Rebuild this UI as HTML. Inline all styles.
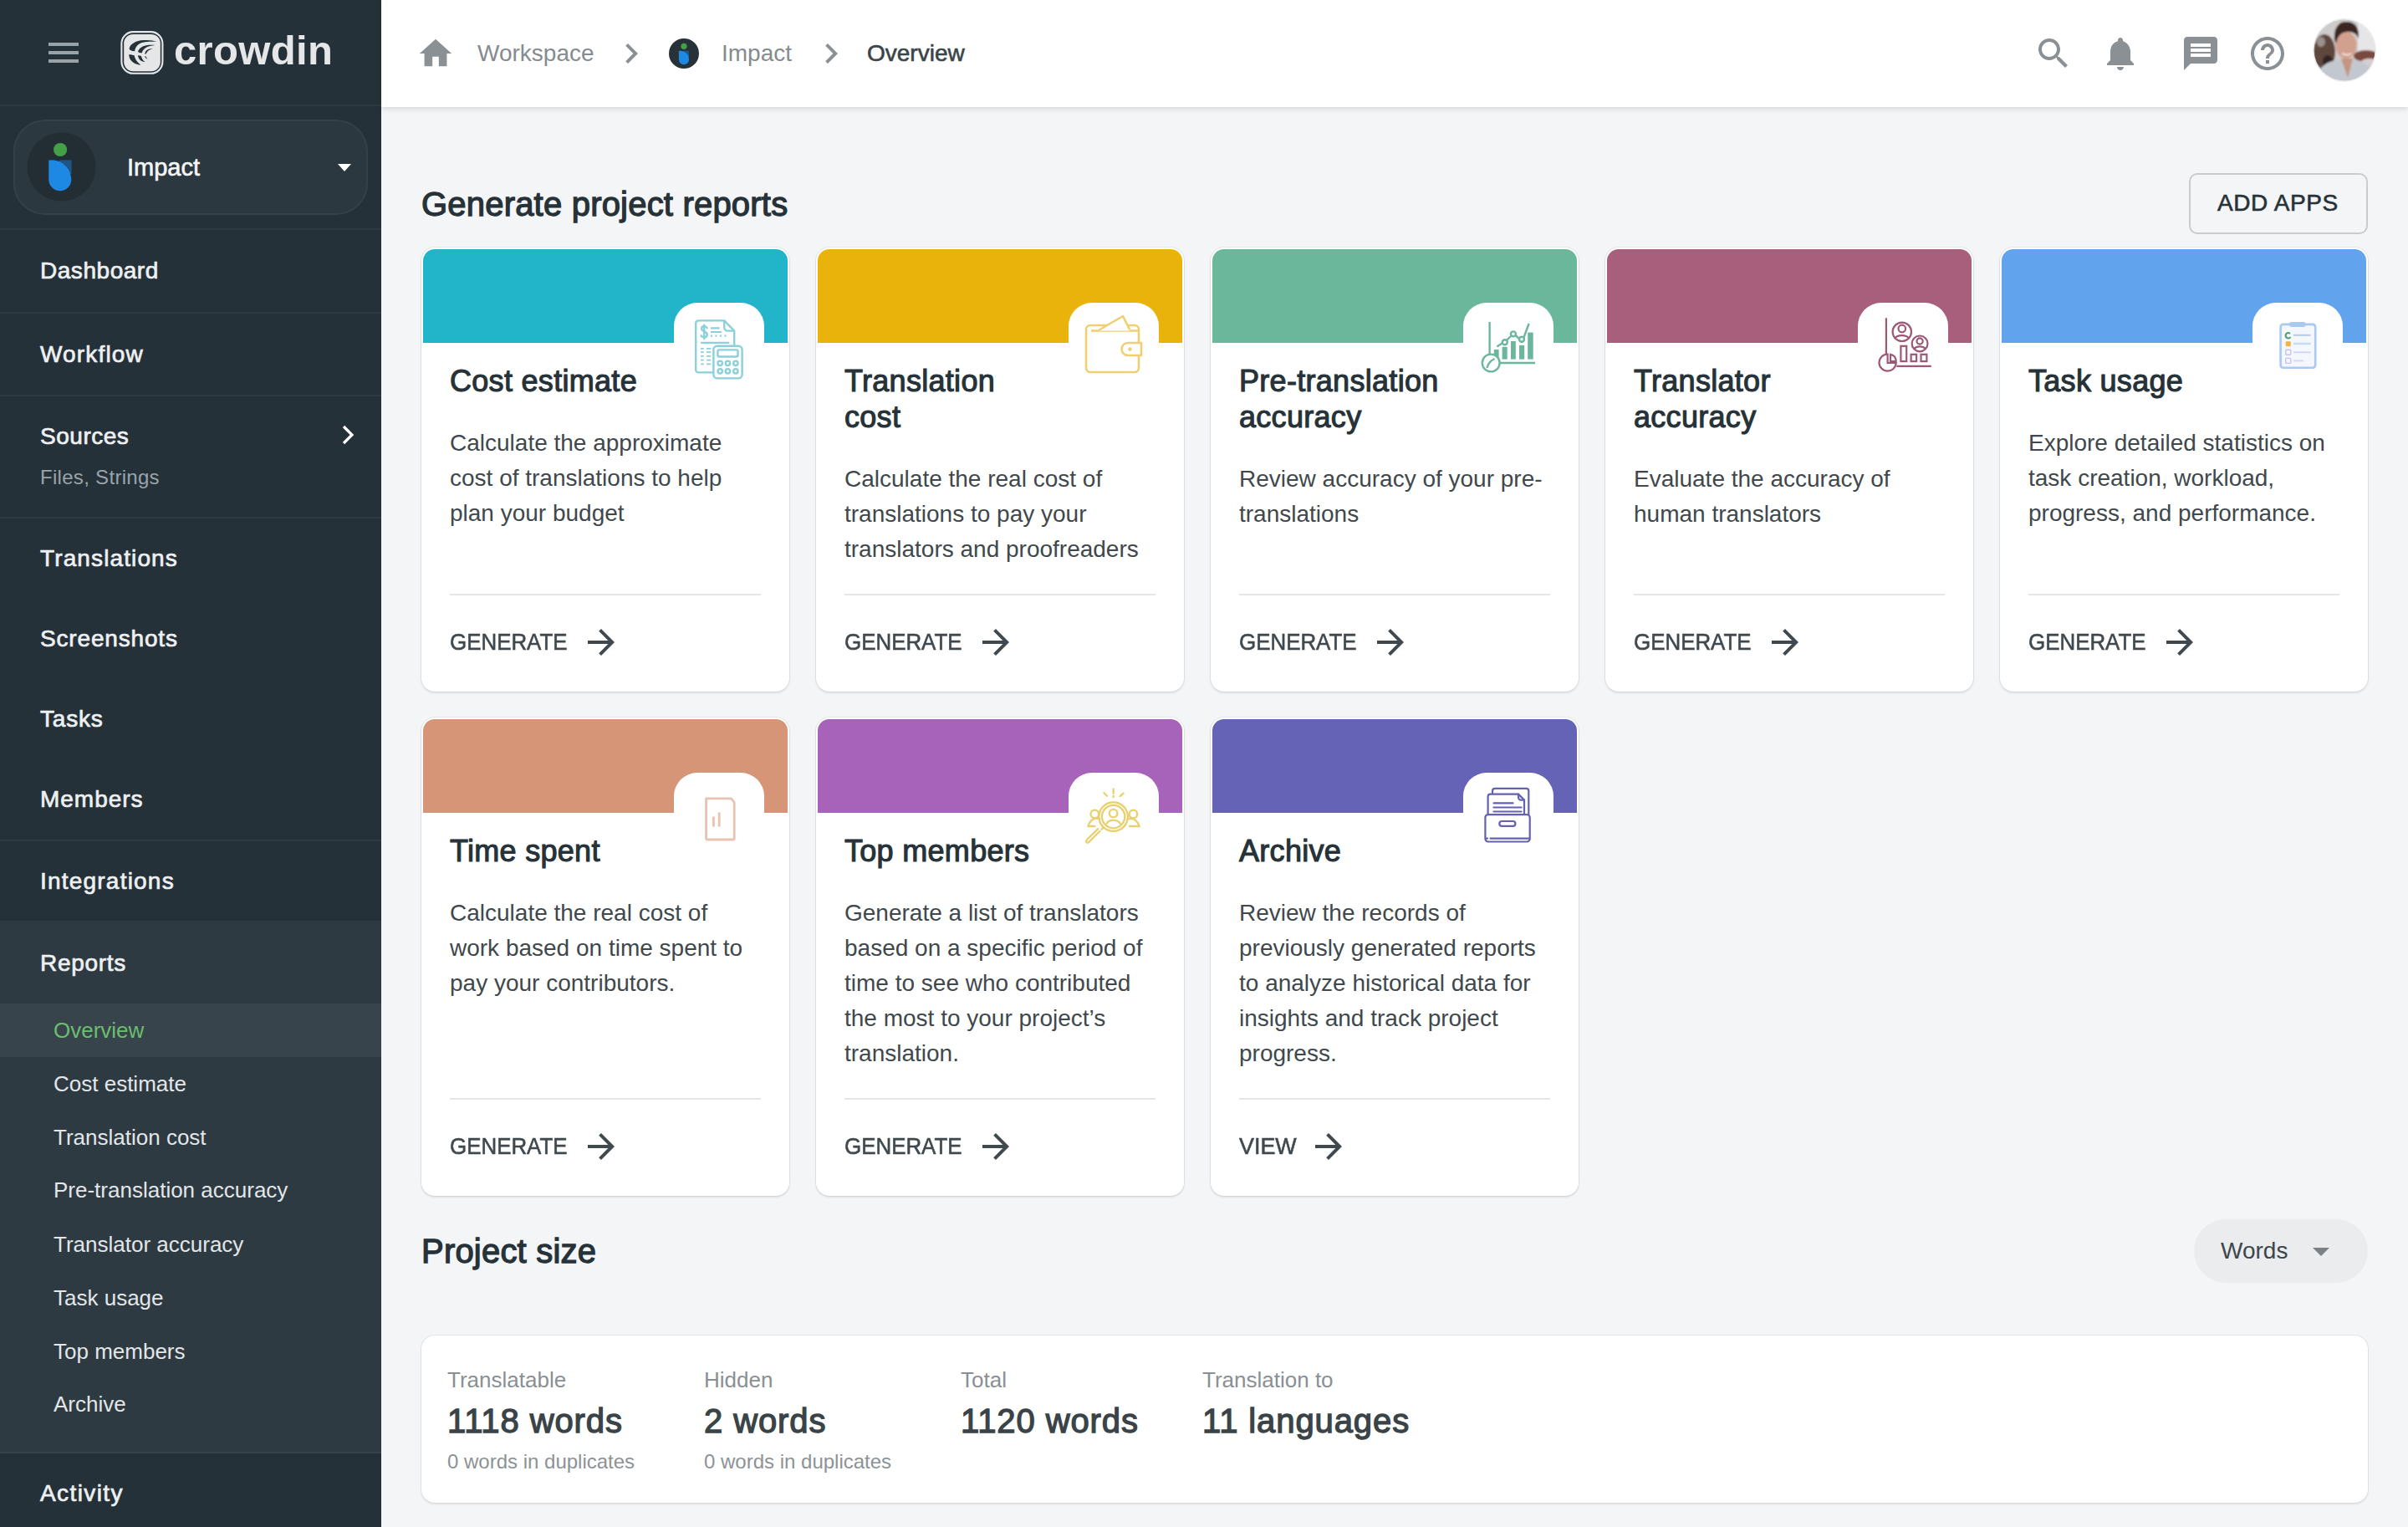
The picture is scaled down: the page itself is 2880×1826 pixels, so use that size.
<!DOCTYPE html>
<html><head><meta charset="utf-8"><title>Crowdin Reports</title>
<style>
html,body{margin:0;padding:0;width:2880px;height:1826px;overflow:hidden;background:#f4f5f7;font-family:"Liberation Sans", sans-serif;}
body{position:relative;}
@media (max-width:2000px){html{zoom:0.5;}}
.t{position:absolute;white-space:nowrap;}
.r{position:absolute;}
.med{-webkit-text-stroke:0.6px currentColor;}
.nav{-webkit-text-stroke:0.7px currentColor;}
.med36{-webkit-text-stroke:1.1px currentColor;letter-spacing:0.3px;}
.med40{-webkit-text-stroke:1.3px currentColor;letter-spacing:0.2px;}
.card{position:absolute;width:440px;background:#fff;border-radius:16px;box-shadow:0 0 0 1px rgba(0,0,0,0.055),0 2px 3px rgba(0,0,0,0.09);}
</style></head><body>
<div id="sb" style="position:absolute;left:0;top:0;width:456px;height:1826px;background:#253139;overflow:hidden"><div class="r" style="left:58px;top:51px;width:36px;height:4px;background:#9aa3a8"></div><div class="r" style="left:58px;top:61px;width:36px;height:4px;background:#9aa3a8"></div><div class="r" style="left:58px;top:71px;width:36px;height:4px;background:#9aa3a8"></div><svg class="r" style="left:136px;top:30px" width="68" height="66" viewBox="0 0 68 66">
<rect x="9.4" y="8.1" width="49" height="49.7" rx="14" fill="none" stroke="#e4e6e8" stroke-width="2.1"/>
<rect x="12.2" y="10.9" width="43.6" height="44.3" rx="11" fill="#e4e6e8"/>
<path d="M18.6 28.5 C19 23 26 18.5 36 18 C43 17.6 48 18.5 51.2 20 C46 19.8 40 19.7 35 20.8 C29 22 26 26 25.1 31.3 C22 31 19.5 30.5 18.6 28.5 Z" fill="#263238"/>
<path d="M29 32 C30 28 34 25 39 24.2 C43 23.6 46.5 23.6 49.3 24 C45.5 24.6 41.5 25.2 38.5 27 C36 28.5 34.5 30.5 33.7 33.3 C31.5 33.2 30 32.8 29 32 Z" fill="#263238"/>
<path d="M37.2 34.2 C37.8 31 40 29.2 43 28.6 C44.5 28.3 45.8 28.3 46.7 28.3 C44.5 29 42 29.8 40.5 31.5 C39.5 32.5 39 33.5 38.8 34.6 Z" fill="#263238"/>
<path d="M18.2 35.2 C20.5 35.2 23 35.6 24.6 36.3 C25.5 40 27.5 44.5 32.4 47.6 C27 47.5 23 45 20.5 42 C19 40 18.3 37.5 18.2 35.2 Z" fill="#263238"/>
<path d="M29 36.3 C30.5 36.5 31.8 36.7 32.9 37 C33.5 39.8 35 42.5 37.6 44.1 C34.5 44 32 42.5 30.5 40.5 C29.5 39 29 37.7 29 36.3 Z" fill="#263238"/>
<path d="M37 37.2 L38.5 37.6 C39 39 39.6 40 40.6 40.6 C39 40.4 37.6 39 37 37.2 Z" fill="#263238"/>
</svg><div class="t " style="left:208px;top:36.1px;font-size:49px;line-height:49px;color:#e4e6e8;font-weight:bold;letter-spacing:0.35px">crowdin</div><div class="r" style="left:0;top:125px;width:456px;height:2px;background:#2f3b43"></div><div class="r" style="left:0;top:273px;width:456px;height:2px;background:#2f3b43"></div><div class="r" style="left:0;top:373px;width:456px;height:2px;background:#2f3b43"></div><div class="r" style="left:0;top:472px;width:456px;height:2px;background:#2f3b43"></div><div class="r" style="left:0;top:618px;width:456px;height:2px;background:#2f3b43"></div><div class="r" style="left:0;top:1004px;width:456px;height:2px;background:#2f3b43"></div><div class="r" style="left:16px;top:143px;width:420px;height:110px;border:2px solid #34414a;border-radius:38px;background:#2c383f"></div><div class="r" style="left:33px;top:159px;width:81px;height:81px;border-radius:50%;background:#222d34;box-shadow:0 0 2px rgba(0,0,0,0.25)"></div><svg class="r" style="left:50px;top:165px" width="44" height="70" viewBox="0 0 44 70">
<circle cx="22.1" cy="14" r="8.1" fill="#43a047"/>
<rect x="20.7" y="26.4" width="14.9" height="16.5" fill="#1f5585"/>
<path d="M8.3 26.4 H12 C25 26.4 35.3 37 35.3 49.8 A13.5 13.5 0 0 1 8.3 49.8 Z" fill="#1e88e5"/>
</svg><div class="t med" style="left:152px;top:185.9px;font-size:29px;line-height:29px;color:#f4f6f7;font-weight:normal;">Impact</div><svg class="r" style="left:402px;top:194px" width="20" height="14" viewBox="0 0 20 14"><path d="M2 2 L18 2 L10 11 Z" fill="#ffffff"/></svg><div class="t nav" style="left:48px;top:310.3px;font-size:28px;line-height:28px;color:#eef0f1;font-weight:normal;letter-spacing:0.54px">Dashboard</div><div class="t nav" style="left:48px;top:410.3px;font-size:28px;line-height:28px;color:#eef0f1;font-weight:normal;letter-spacing:1.16px">Workflow</div><div class="t nav" style="left:48px;top:508.3px;font-size:28px;line-height:28px;color:#eef0f1;font-weight:normal;letter-spacing:0.52px">Sources</div><div class="t nav" style="left:48px;top:654.3px;font-size:28px;line-height:28px;color:#eef0f1;font-weight:normal;letter-spacing:1.12px">Translations</div><div class="t nav" style="left:48px;top:750.3px;font-size:28px;line-height:28px;color:#eef0f1;font-weight:normal;letter-spacing:0.83px">Screenshots</div><div class="t nav" style="left:48px;top:846.3px;font-size:28px;line-height:28px;color:#eef0f1;font-weight:normal;letter-spacing:0.82px">Tasks</div><div class="t nav" style="left:48px;top:942.3px;font-size:28px;line-height:28px;color:#eef0f1;font-weight:normal;letter-spacing:0.97px">Members</div><div class="t nav" style="left:48px;top:1040.3px;font-size:28px;line-height:28px;color:#eef0f1;font-weight:normal;letter-spacing:1.21px">Integrations</div><div class="t " style="left:48px;top:558.7px;font-size:24px;line-height:24px;color:#9aa4a9;font-weight:normal;letter-spacing:0.3px">Files, Strings</div><svg class="r" style="left:404px;top:506px" width="24" height="28" viewBox="0 0 24 28"><path d="M7 4 L17 14 L7 24" fill="none" stroke="#ffffff" stroke-width="3.2"/></svg><div class="r" style="left:0;top:1101px;width:456px;height:636px;background:#2e3a41"></div><div class="r" style="left:0;top:1200px;width:456px;height:64px;background:#38444b"></div><div class="t nav" style="left:48px;top:1138.3px;font-size:28px;line-height:28px;color:#eef0f1;font-weight:normal;letter-spacing:0.72px">Reports</div><div class="t " style="left:64px;top:1218.5px;font-size:26px;line-height:26px;color:#6cbd70;font-weight:normal;">Overview</div><div class="t " style="left:64px;top:1283.0px;font-size:26px;line-height:26px;color:#e3e6e8;font-weight:normal;">Cost estimate</div><div class="t " style="left:64px;top:1346.5px;font-size:26px;line-height:26px;color:#e3e6e8;font-weight:normal;">Translation cost</div><div class="t " style="left:64px;top:1410.0px;font-size:26px;line-height:26px;color:#e3e6e8;font-weight:normal;">Pre-translation accuracy</div><div class="t " style="left:64px;top:1475.0px;font-size:26px;line-height:26px;color:#e3e6e8;font-weight:normal;">Translator accuracy</div><div class="t " style="left:64px;top:1538.7px;font-size:26px;line-height:26px;color:#e3e6e8;font-weight:normal;">Task usage</div><div class="t " style="left:64px;top:1603.0px;font-size:26px;line-height:26px;color:#e3e6e8;font-weight:normal;">Top members</div><div class="t " style="left:64px;top:1666.0px;font-size:26px;line-height:26px;color:#e3e6e8;font-weight:normal;">Archive</div><div class="r" style="left:0;top:1736px;width:456px;height:2px;background:#37434a"></div><div class="t nav" style="left:48px;top:1771.8px;font-size:28px;line-height:28px;color:#eef0f1;font-weight:normal;letter-spacing:1.4px">Activity</div></div><div id="hd" style="position:absolute;left:456px;top:0;width:2424px;height:128px;background:#ffffff;box-shadow:0 2px 6px rgba(0,0,0,0.13)"></div><svg class="r" style="left:498px;top:41px" width="46" height="46" viewBox="0 0 24 24"><path d="M10 20v-6h4v6h5v-8h3L12 3 2 12h3v8z" fill="#8a9094"/></svg><div class="t " style="left:571px;top:50.3px;font-size:28px;line-height:28px;color:#858b8f;font-weight:normal;">Workspace</div><svg class="r" style="left:731px;top:40px" width="48" height="48" viewBox="0 0 24 24"><path d="M10 6L8.59 7.41 13.17 12l-4.58 4.59L10 18l6-6z" fill="#8a9094"/></svg><div class="r" style="left:800px;top:46px;width:36px;height:36px;border-radius:50%;background:#263238"></div><svg class="r" style="left:800px;top:46px" width="36" height="36" viewBox="0 0 36 36">
<circle cx="18" cy="9.3" r="3.6" fill="#43a047"/>
<rect x="17.4" y="14.8" width="6.6" height="7.3" fill="#1f5585"/>
<path d="M11.9 14.8 H13.5 C19.3 14.8 24 19.5 24 25.2 A6.05 6.05 0 0 1 11.9 25.2 Z" fill="#1e88e5"/>
</svg><div class="t " style="left:863px;top:50.3px;font-size:28px;line-height:28px;color:#858b8f;font-weight:normal;">Impact</div><svg class="r" style="left:970px;top:40px" width="48" height="48" viewBox="0 0 24 24"><path d="M10 6L8.59 7.41 13.17 12l-4.58 4.59L10 18l6-6z" fill="#8a9094"/></svg><div class="t med" style="left:1037px;top:50.3px;font-size:28px;line-height:28px;color:#3a4449;font-weight:normal;">Overview</div><svg class="r" style="left:2432px;top:40px" width="48" height="48" viewBox="0 0 24 24"><path d="M15.5 14h-.79l-.28-.27C15.41 12.59 16 11.11 16 9.5 16 5.91 13.09 3 9.5 3S3 5.91 3 9.5 5.91 16 9.5 16c1.61 0 3.09-.59 4.23-1.57l.27.28v.79l5 4.99L20.49 19l-4.99-5zm-6 0C7.01 14 5 11.99 5 9.5S7.01 5 9.5 5 14 7.01 14 9.5 11.99 14 9.5 14z" fill="#8a9094"/></svg><svg class="r" style="left:2512px;top:40px" width="48" height="48" viewBox="0 0 24 24"><path d="M12 22c1.1 0 2-.9 2-2h-4c0 1.1.89 2 2 2zm6-6v-5c0-3.07-1.64-5.64-4.5-6.32V4c0-.83-.67-1.5-1.5-1.5s-1.5.67-1.5 1.5v.68C7.63 5.36 6 7.92 6 11v5l-2 2v1h16v-1l-2-2z" fill="#8a9094"/></svg><svg class="r" style="left:2608px;top:40px" width="48" height="48" viewBox="0 0 24 24"><path d="M20 2H4c-1.1 0-1.99.9-1.99 2L2 22l4-4h14c1.1 0 2-.9 2-2V4c0-1.1-.9-2-2-2zm-2 12H6v-2h12v2zm0-3H6V9h12v2zm0-3H6V6h12v2z" fill="#8a9094"/></svg><svg class="r" style="left:2688px;top:40px" width="48" height="48" viewBox="0 0 24 24"><path d="M11 18h2v-2h-2v2zm1-16C6.48 2 2 6.48 2 12s4.48 10 10 10 10-4.48 10-10S17.52 2 12 2zm0 18c-4.41 0-8-3.59-8-8s3.59-8 8-8 8 3.59 8 8-3.59 8-8 8zm0-14c-2.21 0-4 1.79-4 4h2c0-1.1.9-2 2-2s2 .9 2 2c0 2-3 1.75-3 5h2c0-2.25 3-2.5 3-5 0-2.21-1.79-4-4-4z" fill="#8a9094"/></svg><svg class="r" style="left:2764px;top:20px" width="80" height="80" viewBox="0 0 80 80">
<defs><clipPath id="av"><circle cx="40" cy="40" r="36.5"/></clipPath>
<filter id="bl" x="-10%" y="-10%" width="120%" height="120%"><feGaussianBlur stdDeviation="1.1"/></filter></defs>
<circle cx="40" cy="40" r="38" fill="#ecebee"/>
<g clip-path="url(#av)"><g filter="url(#bl)">
<rect x="0" y="0" width="80" height="80" fill="#cfcccc"/>
<ellipse cx="16" cy="42" rx="13" ry="21" fill="#5e463e"/>
<ellipse cx="12" cy="30" rx="5" ry="6" fill="#9c908c"/>
<ellipse cx="20" cy="54" rx="6" ry="8" fill="#2f2724"/>
<rect x="56" y="6" width="22" height="38" fill="#e6e6e8"/>
<ellipse cx="66" cy="47" rx="15" ry="7" fill="#7a4a40"/>
<ellipse cx="70" cy="54" rx="10" ry="4" fill="#d7cfcf"/>
<path d="M2 82 C6 62 18 54 30 52 L54 52 C66 54 74 62 78 82 Z" fill="#c3c8d0"/>
<path d="M36 50 L44 73 L50 50 Z" fill="#c49580"/>
<ellipse cx="42" cy="34" rx="12.5" ry="16" fill="#d2a08e"/>
<path d="M28 28 C27 12 34 5 43 6 C52 6 58 12 57 26 C55 21 51 18 44 18 C38 18 32 21 30 32 Z" fill="#3a2820"/>
<path d="M37 44 C40 46 45 46 48 44" stroke="#f3e5df" stroke-width="2" fill="none"/>
</g></g></svg><div id="mn" style="position:absolute;left:456px;top:128px;width:2424px;height:1698px;background:#f4f5f7;z-index:-1"></div><div class="t med40" style="left:504px;top:223.9px;font-size:40px;line-height:40px;color:#263238;font-weight:normal;">Generate project reports</div><div class="r" style="left:2618px;top:207px;width:210px;height:69px;border:2px solid #c9ccce;border-radius:10px"></div><div class="t med" style="left:2652px;top:229.4px;font-size:28px;line-height:28px;color:#263238;font-weight:normal;letter-spacing:0.6px">ADD APPS</div><div class="card" style="left:504px;top:296px;height:531px"><div class="r" style="left:2px;top:2px;width:436px;height:112px;background:#22b4c8;border-radius:14px 14px 0 0"></div><div class="r" style="left:302px;top:66px;width:108px;height:80px;background:#fff;border-radius:28px 28px 0 0"></div><svg class="r" style="left:320px;top:80px" width="76" height="80" viewBox="320 80 76 80">
<path d="M331.2 87.4 H362.2 L374.2 99.6 V146.4 A3 3 0 0 1 371.2 149.4 H331.2 A3 3 0 0 1 328.2 146.4 V90.4 A3 3 0 0 1 331.2 87.4 Z" stroke="#8bd0da" fill="none" stroke-width="2.4" stroke-linejoin="round" stroke-linecap="round"/>
<path d="M362.2 88 V95.6 A4 4 0 0 0 366.2 99.6 H374" stroke="#8bd0da" fill="none" stroke-width="2.4" stroke-linejoin="round" stroke-linecap="round"/>
<path d="M338.2 92.6 V109" stroke="#8bd0da" fill="none" stroke-width="2.4" stroke-linejoin="round" stroke-linecap="round" stroke-width="1.8"/>
<path d="M341.6 96.2 C341 94.8 339.8 94.2 338.2 94.2 C336.2 94.2 335 95.4 335 97.1 C335 101.2 341.8 99.6 341.8 104 C341.8 106 340.4 107.3 338.3 107.3 C336.4 107.3 335.2 106.6 334.5 105.2" stroke="#8bd0da" fill="none" stroke-width="2.4" stroke-linejoin="round" stroke-linecap="round"/>
<path d="M346 96.3 H356.6 M346 101 H358.9" stroke="#8bd0da" fill="none" stroke-width="2.2"/>
<path d="M346 105.7 H348 M351.5 105.7 H353.5 M357 105.7 H359 M362.5 105.7 H364.5" stroke="#8bd0da" fill="none" stroke-width="2.2"/>
<path d="M334 113.8 H368.3" stroke="#8bd0da" fill="none" stroke-width="2.2"/>
<path d="M334 120.8 H337.7 M341 120.8 H346.3 M334 125.2 H337.7 M341 125.2 H346.3 M334 129.9 H337.7 M341 129.9 H346.3 M334 134.7 H337.7 M341 134.7 H346.3 M334 139.4 H337.7 M341 139.4 H346.3" stroke="#8bd0da" stroke-width="1.8"/>
<rect x="349.4" y="117.7" width="34.2" height="38.7" rx="4.5" fill="#fff" stroke="#8bd0da" fill="none" stroke-width="2.4" stroke-linejoin="round" stroke-linecap="round"/>
<rect x="354.4" y="122.4" width="24.2" height="8.1" rx="2" stroke="#8bd0da" fill="none" stroke-width="2.4" stroke-linejoin="round" stroke-linecap="round"/>
<circle cx="357.2" cy="138.3" r="2.7" stroke="#8bd0da" fill="none" stroke-width="2.4" stroke-linejoin="round" stroke-linecap="round"/><circle cx="366.4" cy="138.3" r="2.7" stroke="#8bd0da" fill="none" stroke-width="2.4" stroke-linejoin="round" stroke-linecap="round"/><circle cx="375.9" cy="138.3" r="2.7" stroke="#8bd0da" fill="none" stroke-width="2.4" stroke-linejoin="round" stroke-linecap="round"/>
<circle cx="357.2" cy="147.8" r="2.7" stroke="#8bd0da" fill="none" stroke-width="2.4" stroke-linejoin="round" stroke-linecap="round"/><circle cx="366.4" cy="147.8" r="2.7" stroke="#8bd0da" fill="none" stroke-width="2.4" stroke-linejoin="round" stroke-linecap="round"/><circle cx="375.9" cy="147.8" r="2.7" stroke="#8bd0da" fill="none" stroke-width="2.4" stroke-linejoin="round" stroke-linecap="round"/>
</svg><div class="t med36" style="left:34px;top:141.7px;font-size:36px;line-height:36px;color:#263238;font-weight:normal;">Cost estimate</div><div class="t " style="left:34px;top:220.0px;font-size:28px;line-height:28px;color:#40484d;font-weight:normal;">Calculate the approximate</div><div class="t " style="left:34px;top:262.0px;font-size:28px;line-height:28px;color:#40484d;font-weight:normal;">cost of translations to help</div><div class="t " style="left:34px;top:304.0px;font-size:28px;line-height:28px;color:#40484d;font-weight:normal;">plan your budget</div><div class="r" style="left:34px;top:414px;width:372px;height:2px;background:#e3e5e7"></div><div class="t med" style="left:34px;top:457.8px;font-size:28px;line-height:28px;color:#40494e;font-weight:normal;transform:scaleX(0.925);transform-origin:0 0">GENERATE</div><svg class="r" style="left:191px;top:448px" width="48" height="48" viewBox="0 0 24 24"><path d="M12 4l-1.41 1.41L16.17 11H4v2h12.17l-5.58 5.59L12 20l8-8z" fill="#40494e"/></svg></div><div class="card" style="left:976px;top:296px;height:531px"><div class="r" style="left:2px;top:2px;width:436px;height:112px;background:#e9b30b;border-radius:14px 14px 0 0"></div><div class="r" style="left:302px;top:66px;width:108px;height:80px;background:#fff;border-radius:28px 28px 0 0"></div><svg class="r" style="left:310px;top:70px" width="90" height="90" viewBox="310 70 90 90">
<rect x="323" y="93" width="63" height="56" rx="5" stroke="#f0cf72" fill="none" stroke-width="2.6" stroke-linejoin="round"/>
<path d="M329 99.5 H386" stroke="#f0cf72" fill="none" stroke-width="2.6" stroke-linejoin="round"/>
<path d="M338 99.5 L367 82 L375 99.5 Z" fill="#fff" stroke="none"/>
<path d="M338 99 L367 82 L375 98" stroke="#f0cf72" fill="none" stroke-width="2.6" stroke-linejoin="round"/>
<path d="M389 114 H373 A7.5 7.5 0 0 0 373 129 H389 Z" fill="#fff" stroke="#f0cf72" fill="none" stroke-width="2.6" stroke-linejoin="round"/>
<circle cx="375.5" cy="121.5" r="2.2" fill="#f0cf72"/>
</svg><div class="t med36" style="left:34px;top:141.7px;font-size:36px;line-height:36px;color:#263238;font-weight:normal;">Translation</div><div class="t med36" style="left:34px;top:184.7px;font-size:36px;line-height:36px;color:#263238;font-weight:normal;">cost</div><div class="t " style="left:34px;top:263.0px;font-size:28px;line-height:28px;color:#40484d;font-weight:normal;">Calculate the real cost of</div><div class="t " style="left:34px;top:305.0px;font-size:28px;line-height:28px;color:#40484d;font-weight:normal;">translations to pay your</div><div class="t " style="left:34px;top:347.0px;font-size:28px;line-height:28px;color:#40484d;font-weight:normal;">translators and proofreaders</div><div class="r" style="left:34px;top:414px;width:372px;height:2px;background:#e3e5e7"></div><div class="t med" style="left:34px;top:457.8px;font-size:28px;line-height:28px;color:#40494e;font-weight:normal;transform:scaleX(0.925);transform-origin:0 0">GENERATE</div><svg class="r" style="left:191px;top:448px" width="48" height="48" viewBox="0 0 24 24"><path d="M12 4l-1.41 1.41L16.17 11H4v2h12.17l-5.58 5.59L12 20l8-8z" fill="#40494e"/></svg></div><div class="card" style="left:1448px;top:296px;height:531px"><div class="r" style="left:2px;top:2px;width:436px;height:112px;background:#6ab79c;border-radius:14px 14px 0 0"></div><div class="r" style="left:302px;top:66px;width:108px;height:80px;background:#fff;border-radius:28px 28px 0 0"></div><svg class="r" style="left:320px;top:80px" width="80" height="70" viewBox="320 80 80 70">
<path d="M333.6 89 V127" stroke="#6ab79c" fill="none" stroke-width="2.4"/>
<path d="M343 138 H388" stroke="#6ab79c" fill="none" stroke-width="2.4" stroke-width="2.6"/>
<rect x="338.8" y="122" width="5.8" height="11.6" fill="#6ab79c"/>
<rect x="348.6" y="118.8" width="6.1" height="14.8" fill="#6ab79c"/>
<rect x="359" y="112" width="5.8" height="21.6" fill="#6ab79c"/>
<rect x="369" y="117" width="6.2" height="16.6" fill="#6ab79c"/>
<rect x="379.2" y="101.6" width="6.5" height="32" fill="#6ab79c"/>
<path d="M342.4 118.5 L349.5 113.8 M354 110.8 L359.5 105.5 M364.5 105 L369.5 109.5 M374.5 107.5 L380.6 91" stroke="#6ab79c" fill="none" stroke-width="2.4"/>
<circle cx="351.8" cy="113.2" r="3" stroke="#6ab79c" fill="none" stroke-width="2.4"/>
<circle cx="361.9" cy="103.4" r="3" stroke="#6ab79c" fill="none" stroke-width="2.4"/>
<circle cx="372" cy="109.8" r="3" stroke="#6ab79c" fill="none" stroke-width="2.4"/>
<circle cx="335.2" cy="138" r="10.4" fill="#fff" stroke="#6ab79c" fill="none" stroke-width="2.4"/>
<path d="M330.5 144 C332 138 335 135 339.5 133" stroke="#6ab79c" fill="none" stroke-width="2.4" stroke-width="2.8"/>
</svg><div class="t med36" style="left:34px;top:141.7px;font-size:36px;line-height:36px;color:#263238;font-weight:normal;">Pre-translation</div><div class="t med36" style="left:34px;top:184.7px;font-size:36px;line-height:36px;color:#263238;font-weight:normal;">accuracy</div><div class="t " style="left:34px;top:263.0px;font-size:28px;line-height:28px;color:#40484d;font-weight:normal;">Review accuracy of your pre-</div><div class="t " style="left:34px;top:305.0px;font-size:28px;line-height:28px;color:#40484d;font-weight:normal;">translations</div><div class="r" style="left:34px;top:414px;width:372px;height:2px;background:#e3e5e7"></div><div class="t med" style="left:34px;top:457.8px;font-size:28px;line-height:28px;color:#40494e;font-weight:normal;transform:scaleX(0.925);transform-origin:0 0">GENERATE</div><svg class="r" style="left:191px;top:448px" width="48" height="48" viewBox="0 0 24 24"><path d="M12 4l-1.41 1.41L16.17 11H4v2h12.17l-5.58 5.59L12 20l8-8z" fill="#40494e"/></svg></div><div class="card" style="left:1920px;top:296px;height:531px"><div class="r" style="left:2px;top:2px;width:436px;height:112px;background:#a85f7c;border-radius:14px 14px 0 0"></div><div class="r" style="left:302px;top:66px;width:108px;height:80px;background:#fff;border-radius:28px 28px 0 0"></div><svg class="r" style="left:320px;top:80px" width="80" height="70" viewBox="320 80 80 70">
<path d="M335.9 84.3 V127.5" stroke="#9c5876" fill="none" stroke-width="2.2"/>
<path d="M348.4 141.9 H389.8" stroke="#9c5876" fill="none" stroke-width="2.2" stroke-width="2.6"/>
<circle cx="354.8" cy="100.8" r="11.2" stroke="#9c5876" fill="none" stroke-width="2.2"/>
<circle cx="354.8" cy="97" r="4.3" stroke="#9c5876" fill="none" stroke-width="2.2"/>
<path d="M346.5 108.5 C349 104 360 104 363 108.5" stroke="#9c5876" fill="none" stroke-width="2.2"/>
<circle cx="376.1" cy="114.9" r="9.4" stroke="#9c5876" fill="none" stroke-width="2.2"/>
<circle cx="376.1" cy="112" r="3.6" stroke="#9c5876" fill="none" stroke-width="2.2"/>
<path d="M369.5 121 C372 117.5 380 117.5 382.7 121" stroke="#9c5876" fill="none" stroke-width="2.2"/>
<rect x="353.4" y="117.8" width="6.8" height="18.3" stroke="#9c5876" fill="none" stroke-width="2.2"/>
<rect x="365.6" y="127.8" width="6.5" height="8.3" stroke="#9c5876" fill="none" stroke-width="2.2"/>
<rect x="377.5" y="127.8" width="6.9" height="8.3" stroke="#9c5876" fill="none" stroke-width="2.2"/>
<path d="M347.7 138 A10.1 10.1 0 1 1 337.6 127.5 V138 Z" stroke="#9c5876" fill="none" stroke-width="2.2"/>
<path d="M341 136 V127.8 A8 8 0 0 1 347.6 134.5 V136 Z" stroke="#9c5876" fill="none" stroke-width="2.2"/>
</svg><div class="t med36" style="left:34px;top:141.7px;font-size:36px;line-height:36px;color:#263238;font-weight:normal;">Translator</div><div class="t med36" style="left:34px;top:184.7px;font-size:36px;line-height:36px;color:#263238;font-weight:normal;">accuracy</div><div class="t " style="left:34px;top:263.0px;font-size:28px;line-height:28px;color:#40484d;font-weight:normal;">Evaluate the accuracy of</div><div class="t " style="left:34px;top:305.0px;font-size:28px;line-height:28px;color:#40484d;font-weight:normal;">human translators</div><div class="r" style="left:34px;top:414px;width:372px;height:2px;background:#e3e5e7"></div><div class="t med" style="left:34px;top:457.8px;font-size:28px;line-height:28px;color:#40494e;font-weight:normal;transform:scaleX(0.925);transform-origin:0 0">GENERATE</div><svg class="r" style="left:191px;top:448px" width="48" height="48" viewBox="0 0 24 24"><path d="M12 4l-1.41 1.41L16.17 11H4v2h12.17l-5.58 5.59L12 20l8-8z" fill="#40494e"/></svg></div><div class="card" style="left:2392px;top:296px;height:531px"><div class="r" style="left:2px;top:2px;width:436px;height:112px;background:#62a3ee;border-radius:14px 14px 0 0"></div><div class="r" style="left:302px;top:66px;width:108px;height:80px;background:#fff;border-radius:28px 28px 0 0"></div><svg class="r" style="left:320px;top:80px" width="70" height="70" viewBox="320 80 70 70">
<rect x="335.6" y="91.9" width="41.6" height="51.9" rx="3" fill="#f4f8fd" stroke="#a9c9f1" stroke-width="2.6"/>
<rect x="346" y="89" width="19.8" height="6" rx="3" fill="#a9c9f1"/>
<path d="M347 103 A3.2 3.2 0 1 0 347.5 107" stroke="#4f9e6e" fill="none" stroke-width="2"/>
<rect x="341.7" y="112.2" width="6.1" height="6" rx="1" fill="#f3b34a"/>
<rect x="341.7" y="122.3" width="6.1" height="6" rx="1" fill="none" stroke="#c5c3ee" stroke-width="1.4"/>
<rect x="341.7" y="132.4" width="6.1" height="6" rx="1" fill="none" stroke="#c5c3ee" stroke-width="1.4"/>
<path d="M351 104.8 H371.6" stroke="#b8cdea" stroke-width="2.2"/>
<path d="M351 115 H371.6" stroke="#c2dcf0" stroke-width="2.6"/>
<path d="M351 125.3 H371.6" stroke="#d5d6f2" stroke-width="2"/>
<path d="M351 135.4 H363" stroke="#d5d6f2" stroke-width="2"/>
</svg><div class="t med36" style="left:34px;top:141.7px;font-size:36px;line-height:36px;color:#263238;font-weight:normal;">Task usage</div><div class="t " style="left:34px;top:220.0px;font-size:28px;line-height:28px;color:#40484d;font-weight:normal;">Explore detailed statistics on</div><div class="t " style="left:34px;top:262.0px;font-size:28px;line-height:28px;color:#40484d;font-weight:normal;">task creation, workload,</div><div class="t " style="left:34px;top:304.0px;font-size:28px;line-height:28px;color:#40484d;font-weight:normal;">progress, and performance.</div><div class="r" style="left:34px;top:414px;width:372px;height:2px;background:#e3e5e7"></div><div class="t med" style="left:34px;top:457.8px;font-size:28px;line-height:28px;color:#40494e;font-weight:normal;transform:scaleX(0.925);transform-origin:0 0">GENERATE</div><svg class="r" style="left:191px;top:448px" width="48" height="48" viewBox="0 0 24 24"><path d="M12 4l-1.41 1.41L16.17 11H4v2h12.17l-5.58 5.59L12 20l8-8z" fill="#40494e"/></svg></div><div class="card" style="left:504px;top:858px;height:572px"><div class="r" style="left:2px;top:2px;width:436px;height:112px;background:#d69577;border-radius:14px 14px 0 0"></div><div class="r" style="left:302px;top:66px;width:108px;height:80px;background:#fff;border-radius:28px 28px 0 0"></div><svg class="r" style="left:320px;top:80px" width="70" height="80" viewBox="320 80 70 80">
<path d="M340.6 96.8 H370.5 L374.2 101.5 V144.5 A1.5 1.5 0 0 1 372.7 146 H342.1 A1.5 1.5 0 0 1 340.6 144.5 Z" stroke="#e8c2b2" fill="none" stroke-width="2.8" stroke-linejoin="round"/>
<path d="M349.4 118.5 V130.5 M356.2 113.5 V130.5" stroke="#e8c2b2" fill="none" stroke-width="2.8" stroke-linejoin="round"/>
</svg><div class="t med36" style="left:34px;top:141.7px;font-size:36px;line-height:36px;color:#263238;font-weight:normal;">Time spent</div><div class="t " style="left:34px;top:220.0px;font-size:28px;line-height:28px;color:#40484d;font-weight:normal;">Calculate the real cost of</div><div class="t " style="left:34px;top:262.0px;font-size:28px;line-height:28px;color:#40484d;font-weight:normal;">work based on time spent to</div><div class="t " style="left:34px;top:304.0px;font-size:28px;line-height:28px;color:#40484d;font-weight:normal;">pay your contributors.</div><div class="r" style="left:34px;top:455px;width:372px;height:2px;background:#e3e5e7"></div><div class="t med" style="left:34px;top:498.8px;font-size:28px;line-height:28px;color:#40494e;font-weight:normal;transform:scaleX(0.925);transform-origin:0 0">GENERATE</div><svg class="r" style="left:191px;top:489px" width="48" height="48" viewBox="0 0 24 24"><path d="M12 4l-1.41 1.41L16.17 11H4v2h12.17l-5.58 5.59L12 20l8-8z" fill="#40494e"/></svg></div><div class="card" style="left:976px;top:858px;height:572px"><div class="r" style="left:2px;top:2px;width:436px;height:112px;background:#a762b9;border-radius:14px 14px 0 0"></div><div class="r" style="left:302px;top:66px;width:108px;height:80px;background:#fff;border-radius:28px 28px 0 0"></div><svg class="r" style="left:310px;top:70px" width="90" height="90" viewBox="310 70 90 90">
<path d="M355.6 85.5 V91 M355.6 94 V95.2 M344.4 90.3 L348 93.8 M367.6 90.6 L363.5 94.2" stroke="#e9d06f" fill="none" stroke-width="2.3" stroke-linecap="round"/>
<circle cx="355.6" cy="118.6" r="17.3" stroke="#e9d06f" fill="none" stroke-width="2.3" stroke-linecap="round"/>
<circle cx="355.6" cy="118.6" r="13.7" stroke="#e9d06f" fill="none" stroke-width="2.3" stroke-linecap="round"/>
<circle cx="355.6" cy="114.6" r="4.8" stroke="#e9d06f" fill="none" stroke-width="2.3" stroke-linecap="round"/>
<path d="M347.5 127 C350 121.5 361 121.5 363.8 127" stroke="#e9d06f" fill="none" stroke-width="2.3" stroke-linecap="round"/>
<circle cx="333.3" cy="115.5" r="4.8" stroke="#e9d06f" fill="none" stroke-width="2.3" stroke-linecap="round"/>
<path d="M339.3 121.5 C333 119 327 123 325.5 130 H333.5" stroke="#e9d06f" fill="none" stroke-width="2.3" stroke-linecap="round"/>
<circle cx="379.4" cy="115.5" r="4.8" stroke="#e9d06f" fill="none" stroke-width="2.3" stroke-linecap="round"/>
<path d="M372.5 121.5 C378.5 119 384.5 123 386.5 130 H375" stroke="#e9d06f" fill="none" stroke-width="2.3" stroke-linecap="round"/>
<path d="M343.5 131.6 L341.6 133.6 M339.5 135.8 L327 148.3 C324 151 321.5 148.5 324.3 145.7 L337.2 133.2" stroke="#e9d06f" fill="none" stroke-width="2.3" stroke-linecap="round"/>
</svg><div class="t med36" style="left:34px;top:141.7px;font-size:36px;line-height:36px;color:#263238;font-weight:normal;">Top members</div><div class="t " style="left:34px;top:220.0px;font-size:28px;line-height:28px;color:#40484d;font-weight:normal;">Generate a list of translators</div><div class="t " style="left:34px;top:262.0px;font-size:28px;line-height:28px;color:#40484d;font-weight:normal;">based on a specific period of</div><div class="t " style="left:34px;top:304.0px;font-size:28px;line-height:28px;color:#40484d;font-weight:normal;">time to see who contributed</div><div class="t " style="left:34px;top:346.0px;font-size:28px;line-height:28px;color:#40484d;font-weight:normal;">the most to your project&#8217;s</div><div class="t " style="left:34px;top:388.0px;font-size:28px;line-height:28px;color:#40484d;font-weight:normal;">translation.</div><div class="r" style="left:34px;top:455px;width:372px;height:2px;background:#e3e5e7"></div><div class="t med" style="left:34px;top:498.8px;font-size:28px;line-height:28px;color:#40494e;font-weight:normal;transform:scaleX(0.925);transform-origin:0 0">GENERATE</div><svg class="r" style="left:191px;top:489px" width="48" height="48" viewBox="0 0 24 24"><path d="M12 4l-1.41 1.41L16.17 11H4v2h12.17l-5.58 5.59L12 20l8-8z" fill="#40494e"/></svg></div><div class="card" style="left:1448px;top:858px;height:572px"><div class="r" style="left:2px;top:2px;width:436px;height:112px;background:#6563b5;border-radius:14px 14px 0 0"></div><div class="r" style="left:302px;top:66px;width:108px;height:80px;background:#fff;border-radius:28px 28px 0 0"></div><svg class="r" style="left:320px;top:76px" width="70" height="80" viewBox="320 76 70 80">
<path d="M337 91 V87.8 A3 3 0 0 1 340 84.8 H377.3 A3 3 0 0 1 380.3 87.8 V116" stroke="#6462b0" fill="none" stroke-width="2.2" stroke-linecap="round" stroke-linejoin="round"/>
<path d="M331.6 116 V94.6 A3 3 0 0 1 334.6 91.6 H368 L375 98.6 V116" stroke="#6462b0" fill="none" stroke-width="2.2" stroke-linecap="round" stroke-linejoin="round"/>
<path d="M368 91.6 V95.6 A3 3 0 0 0 371 98.6 H375" stroke="#6462b0" fill="none" stroke-width="2.2" stroke-linecap="round" stroke-linejoin="round"/>
<path d="M338.5 102.4 H361.5 M338.5 107.5 H371.6 M338.5 112.5 H371.6" stroke="#6462b0" fill="none" stroke-width="2.2" stroke-linecap="round" stroke-linejoin="round"/>
<rect x="328.4" y="116.1" width="53.3" height="32.4" rx="3.5" fill="#fff" stroke="#6462b0" fill="none" stroke-width="2.2" stroke-linecap="round" stroke-linejoin="round"/>
<rect x="345.3" y="124" width="19.1" height="5.8" rx="2.9" stroke="#6462b0" fill="none" stroke-width="2.2" stroke-linecap="round" stroke-linejoin="round"/>
<path d="M329.5 144.6 H331 M334.5 144.6 H380.5" stroke="#6462b0" fill="none" stroke-width="2.2" stroke-linecap="round" stroke-linejoin="round"/>
</svg><div class="t med36" style="left:34px;top:141.7px;font-size:36px;line-height:36px;color:#263238;font-weight:normal;">Archive</div><div class="t " style="left:34px;top:220.0px;font-size:28px;line-height:28px;color:#40484d;font-weight:normal;">Review the records of</div><div class="t " style="left:34px;top:262.0px;font-size:28px;line-height:28px;color:#40484d;font-weight:normal;">previously generated reports</div><div class="t " style="left:34px;top:304.0px;font-size:28px;line-height:28px;color:#40484d;font-weight:normal;">to analyze historical data for</div><div class="t " style="left:34px;top:346.0px;font-size:28px;line-height:28px;color:#40484d;font-weight:normal;">insights and track project</div><div class="t " style="left:34px;top:388.0px;font-size:28px;line-height:28px;color:#40484d;font-weight:normal;">progress.</div><div class="r" style="left:34px;top:455px;width:372px;height:2px;background:#e3e5e7"></div><div class="t med" style="left:34px;top:498.8px;font-size:28px;line-height:28px;color:#40494e;font-weight:normal;transform:scaleX(0.96);transform-origin:0 0">VIEW</div><svg class="r" style="left:117px;top:489px" width="48" height="48" viewBox="0 0 24 24"><path d="M12 4l-1.41 1.41L16.17 11H4v2h12.17l-5.58 5.59L12 20l8-8z" fill="#40494e"/></svg></div><div class="t med40" style="left:504px;top:1476.1px;font-size:40px;line-height:40px;color:#263238;font-weight:normal;">Project size</div><div class="r" style="left:2624px;top:1458px;width:208px;height:76px;border-radius:38px;background:#eaecee"></div><div class="t " style="left:2656px;top:1482.3px;font-size:28px;line-height:28px;color:#3c464b;font-weight:normal;">Words</div><svg class="r" style="left:2764px;top:1490px" width="24" height="14" viewBox="0 0 24 14"><path d="M2 2 H22 L12 12 Z" fill="#7b8185"/></svg><div class="r" style="left:504px;top:1597px;width:2328px;height:200px;background:#fff;border-radius:16px;box-shadow:0 0 0 1px rgba(0,0,0,0.06),0 2px 3px rgba(0,0,0,0.08)"></div><div class="t " style="left:535px;top:1637.0px;font-size:26px;line-height:26px;color:#899094;font-weight:normal;">Translatable</div><div class="t med40" style="left:535px;top:1679.1px;font-size:40px;line-height:40px;color:#3a4347;font-weight:normal;letter-spacing:0.9px">1118 words</div><div class="t " style="left:535px;top:1735.7px;font-size:24px;line-height:24px;color:#8c9296;font-weight:normal;">0 words in duplicates</div><div class="t " style="left:842px;top:1637.0px;font-size:26px;line-height:26px;color:#899094;font-weight:normal;">Hidden</div><div class="t med40" style="left:842px;top:1679.1px;font-size:40px;line-height:40px;color:#3a4347;font-weight:normal;letter-spacing:0.9px">2 words</div><div class="t " style="left:842px;top:1735.7px;font-size:24px;line-height:24px;color:#8c9296;font-weight:normal;">0 words in duplicates</div><div class="t " style="left:1149px;top:1637.0px;font-size:26px;line-height:26px;color:#899094;font-weight:normal;">Total</div><div class="t med40" style="left:1149px;top:1679.1px;font-size:40px;line-height:40px;color:#3a4347;font-weight:normal;letter-spacing:0.9px">1120 words</div><div class="t " style="left:1438px;top:1637.0px;font-size:26px;line-height:26px;color:#899094;font-weight:normal;">Translation to</div><div class="t med40" style="left:1438px;top:1679.1px;font-size:40px;line-height:40px;color:#3a4347;font-weight:normal;letter-spacing:0.9px">11 languages</div>
</body></html>
